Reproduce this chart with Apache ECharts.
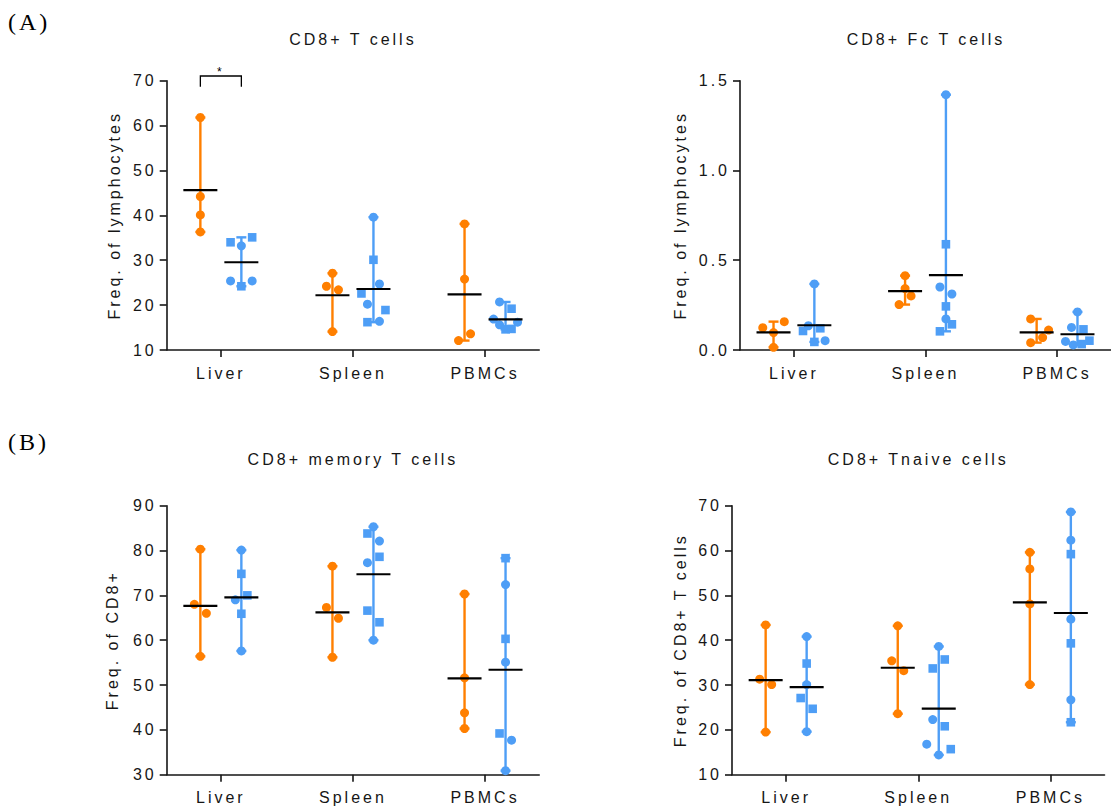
<!DOCTYPE html>
<html>
<head>
<meta charset="utf-8">
<script src="https://cdn.jsdelivr.net/npm/echarts@6/dist/echarts.min.js"></script>
<style>
  html, body { margin: 0; padding: 0; background: #ffffff; }
  #chart { width: 1111px; height: 811px; }
  /* Prism-style wide tracking on every label */
  #chart text { letter-spacing: 3px; }
</style>
</head>
<body>
<div id="chart"></div>
<script>
// ---- categories, titles, axes ----
const categories = ['Liver', 'Spleen', 'PBMCs'];
const panelTitles = ['CD8+ T cells', 'CD8+ Fc T cells', 'CD8+ memory T cells', 'CD8+ Tnaive cells'];
const panelLetters = ['(A)', '(B)'];
const yAxisNames = ['Freq. of lymphocytes', 'Freq. of lymphocytes', 'Freq. of CD8+', 'Freq. of CD8+ T cells'];
const yMin = [10, 0, 30, 10];
const yMax = [70, 1.5, 90, 70];
const yStep = [10, 0.5, 10, 10];
const yDecimals = [0, 1, 0, 0];

// ---- values per category (Liver, Spleen, PBMCs) ----
// CD8+ T cells
const tOrange      = [[61.8, 44.2, 40.1, 36.3], [27.1, 24.2, 23.4, 14.1], [38.1, 25.8, 13.6, 12.1]];
const tBlueCircle  = [[33.2, 25.4, 25.4], [39.6, 24.7, 20.2, 16.4], [20.7, 16.9, 16.2, 15.6]];
const tBlueSquare  = [[34.0, 35.1, 24.2], [30.1, 22.6, 18.9, 16.2], [19.2, 14.6, 14.7]];
// CD8+ Fc T cells
const fcOrange     = [[0.158, 0.124, 0.097, 0.015], [0.414, 0.342, 0.301, 0.253], [0.173, 0.111, 0.069, 0.041]];
const fcBlueCircle = [[0.368, 0.135, 0.052], [1.422, 0.351, 0.312, 0.173], [0.212, 0.126, 0.048, 0.028]];
const fcBlueSquare = [[0.106, 0.121, 0.045], [0.589, 0.243, 0.143, 0.104], [0.115, 0.033, 0.052]];
// CD8+ memory T cells
const memOrange     = [[80.3, 68.0, 66.0, 56.4], [76.5, 67.3, 64.9, 56.2], [70.3, 51.6, 43.8, 40.3]];
const memBlueCircle = [[80.1, 69.0, 57.6], [85.3, 82.1, 77.3, 60.0], [72.4, 55.1, 37.7, 30.9]];
const memBlueSquare = [[74.8, 70.0, 65.9], [83.8, 78.6, 66.6, 64.0], [78.3, 60.3, 39.2]];
// CD8+ Tnaive cells
const nvOrange     = [[43.4, 31.3, 30.1, 19.5], [43.2, 35.4, 33.2, 23.6], [59.6, 55.9, 48.1, 30.1]];
const nvBlueCircle = [[40.8, 30.1, 19.6], [38.6, 22.3, 16.8, 14.4], [68.6, 62.3, 44.7, 26.7]];
const nvBlueSquare = [[34.8, 27.1, 24.7], [35.7, 33.7, 20.8, 15.7], [59.2, 39.3, 21.7]];

// ---- scatter column slots (dot spreading within a group) ----
const tOrangeSlot   = [[0, 0, 0, 0], [0, -1, 1, 0], [0, 0, 1, -1]];
const tCircleSlot   = [[0, -1.8, 1.8], [0, 1, -1, 1], [-1, -2, 2, -1]];
const tSquareSlot   = [[-1.8, 1.8, 0], [0, -2, 2, -1], [1, 0, 1]];
const fcOrangeSlot  = [[1.8, -1.8, 0, 0], [0, 0, 1, -1], [-1, 2, 1, -1]];
const fcCircleSlot  = [[0, -1, 1.8], [0, -1, 1, 0], [0, -1, -2, -0.7]];
const fcSquareSlot  = [[-1.9, 1, 0], [0, 0, 1, -1], [1, 0.7, 2]];
const memOrangeSlot = [[0, -1, 1, 0], [0, -1, 1, 0], [0, 0, 0, 0]];
const memCircleSlot = [[0, -1, 0], [0, 1, -1, 0], [0, 0, 1, 0]];
const memSquareSlot = [[0, 1, 0], [-1, 1, -1, 1], [0, 0, -1]];
const nvOrangeSlot  = [[0, -1, 1, 0], [0, -1, 1, 0], [0, 0, 0, 0]];
const nvCircleSlot  = [[0, 0, 0], [0, -1, -2, 0], [0, 0, 0, 0]];
const nvSquareSlot  = [[0, -1, 1], [1, -1, 1, 2], [0, 0, 0]];

// significance marks: [panel, category index, label]
const sigMarks = [[0, 0, '*']];

// ---- panel assembly ----
const panels = [
  { orange: tOrange, circle: tBlueCircle, square: tBlueSquare, oSlot: tOrangeSlot, cSlot: tCircleSlot, sSlot: tSquareSlot },
  { orange: fcOrange, circle: fcBlueCircle, square: fcBlueSquare, oSlot: fcOrangeSlot, cSlot: fcCircleSlot, sSlot: fcSquareSlot },
  { orange: memOrange, circle: memBlueCircle, square: memBlueSquare, oSlot: memOrangeSlot, cSlot: memCircleSlot, sSlot: memSquareSlot },
  { orange: nvOrange, circle: nvBlueCircle, square: nvBlueSquare, oSlot: nvOrangeSlot, cSlot: nvCircleSlot, sSlot: nvSquareSlot }
];

const ORANGE = '#ff7f00';
const BLUE = '#4e9ef6';
const INK = '#161616';
const FONT = '"Liberation Sans", Arial, sans-serif';
const SERIF = '"Liberation Serif", "Times New Roman", serif';

const grids = [
  { left: 166.7, top: 80.7, width: 372.5, height: 269.3 },
  { left: 740, top: 80.7, width: 372, height: 269.3 },
  { left: 166.7, top: 505.7, width: 372.5, height: 269 },
  { left: 732, top: 505.7, width: 372.5, height: 269 }
];
const X_MIN = 0.59, X_MAX = 3.41;
const pxToX = (X_MAX - X_MIN) / 372.5;     // x units per pixel
const GROUP_SHIFT = 20.5 * pxToX;           // orange left / blue right of tick
const SLOT = 6 * pxToX;                     // jitter column width
const CAP = 5;                              // error-bar cap half width (px)
const MEAN_HALF = 17;                       // mean line half width (px)
const yNameGap = [44, 52, 46, 44];

const mean = a => a.reduce((s, v) => s + v, 0) / a.length;

function points(values, slots, side) {
  const out = [];
  values.forEach((arr, c) => {
    arr.forEach((v, i) => out.push([c + 1 + side * GROUP_SHIFT + slots[c][i] * SLOT, v]));
  });
  return out;
}

function rangeRender(color) {
  return function (params, api) {
    const x = api.value(0);
    const lo = api.coord([x, api.value(1)]);
    const hi = api.coord([x, api.value(2)]);
    const st = { stroke: color, lineWidth: 2.4 };
    return {
      type: 'group',
      children: [
        { type: 'line', shape: { x1: lo[0], y1: lo[1], x2: hi[0], y2: hi[1] }, style: st },
        { type: 'line', shape: { x1: hi[0] - CAP, y1: hi[1], x2: hi[0] + CAP, y2: hi[1] }, style: st },
        { type: 'line', shape: { x1: lo[0] - CAP, y1: lo[1], x2: lo[0] + CAP, y2: lo[1] }, style: st }
      ]
    };
  };
}

function meanRender(params, api) {
  const p = api.coord([api.value(0), api.value(1)]);
  return {
    type: 'line',
    shape: { x1: p[0] - MEAN_HALF, y1: p[1], x2: p[0] + MEAN_HALF, y2: p[1] },
    style: { stroke: '#000', lineWidth: 2.2 }
  };
}

const xAxes = [], yAxes = [], series = [], graphics = [];

panels.forEach((p, k) => {
  xAxes.push({
    gridIndex: k, type: 'value', min: X_MIN, max: X_MAX,
    axisLine: { show: true, onZero: false, lineStyle: { color: INK, width: 1.6 } },
    axisTick: { show: true, customValues: [1, 2, 3], length: 7, lineStyle: { color: INK, width: 1.6 } },
    axisLabel: {
      customValues: [1, 2, 3], margin: 15, fontSize: 16, color: INK, fontFamily: FONT,
      formatter: v => categories[Math.round(v) - 1]
    },
    splitLine: { show: false }
  });
  yAxes.push({
    gridIndex: k, type: 'value', min: yMin[k], max: yMax[k], interval: yStep[k],
    axisLine: { show: true, onZero: false, lineStyle: { color: INK, width: 1.6 } },
    axisTick: { show: true, length: 7, lineStyle: { color: INK, width: 1.6 } },
    axisLabel: { margin: 10, fontSize: 16, color: INK, fontFamily: FONT, formatter: v => v.toFixed(yDecimals[k]) },
    splitLine: { show: false },
    name: yAxisNames[k], nameLocation: 'middle', nameGap: yNameGap[k],
    nameTextStyle: { fontSize: 16, color: INK, fontFamily: FONT }
  });

  const allBlue = p.circle.map((c, i) => c.concat(p.square[i]));
  const rangeData = (groups, side) => groups.map((g, c) => [c + 1 + side * GROUP_SHIFT, Math.min(...g), Math.max(...g)]);
  const meanData = (groups, side) => groups.map((g, c) => [c + 1 + side * GROUP_SHIFT, mean(g)]);

  series.push(
    { type: 'custom', xAxisIndex: k, yAxisIndex: k, z: 2, renderItem: rangeRender(ORANGE), data: rangeData(p.orange, -1) },
    { type: 'custom', xAxisIndex: k, yAxisIndex: k, z: 2, renderItem: rangeRender(BLUE), data: rangeData(allBlue, 1) },
    { type: 'scatter', xAxisIndex: k, yAxisIndex: k, z: 3, symbol: 'circle', symbolSize: 9,
      itemStyle: { color: ORANGE, opacity: 1 }, data: points(p.orange, p.oSlot, -1) },
    { type: 'scatter', xAxisIndex: k, yAxisIndex: k, z: 3, symbol: 'circle', symbolSize: 9,
      itemStyle: { color: BLUE, opacity: 1 }, data: points(p.circle, p.cSlot, 1) },
    { type: 'scatter', xAxisIndex: k, yAxisIndex: k, z: 3, symbol: 'rect', symbolSize: 8.6,
      itemStyle: { color: BLUE, opacity: 1 }, data: points(p.square, p.sSlot, 1) },
    { type: 'custom', xAxisIndex: k, yAxisIndex: k, z: 4, renderItem: meanRender,
      data: meanData(p.orange, -1).concat(meanData(allBlue, 1)) }
  );

  const g = grids[k];
  graphics.push({
    type: 'text', x: g.left + g.width / 2, y: k < 2 ? 39 : 459,
    style: { text: panelTitles[k], textAlign: 'center', textVerticalAlign: 'middle', font: '16px ' + FONT, fill: INK }
  });
});

// significance brackets above compared groups
sigMarks.forEach(([k, c, label]) => {
  series.push({
    type: 'custom', xAxisIndex: k, yAxisIndex: k, z: 5, clip: false,
    data: [[c + 1, yMax[k]]],
    renderItem: function (params, api) {
      const l = api.coord([api.value(0) - GROUP_SHIFT, api.value(1)]);
      const r = api.coord([api.value(0) + GROUP_SHIFT, api.value(1)]);
      const top = l[1] - 4.7;
      return {
        type: 'group',
        children: [
          { type: 'polyline', shape: { points: [[l[0], l[1] + 6], [l[0], top], [r[0], top], [r[0], r[1] + 6]] },
            style: { stroke: '#000', lineWidth: 1.3, fill: null } },
          { type: 'text', x: (l[0] + r[0]) / 2, y: top - 4,
            style: { text: label, textAlign: 'center', textVerticalAlign: 'middle', font: '12px ' + FONT, fill: '#000' } }
        ]
      };
    }
  });
});

graphics.push(
  { type: 'text', x: 8, y: 22, style: { text: panelLetters[0], textVerticalAlign: 'middle', font: '24px ' + SERIF, fill: '#000' } },
  { type: 'text', x: 8, y: 442, style: { text: panelLetters[1], textVerticalAlign: 'middle', font: '24px ' + SERIF, fill: '#000' } }
);

const chart = echarts.init(document.getElementById('chart'), null, { renderer: 'svg' });
chart.setOption({
  backgroundColor: '#ffffff',
  animation: false,
  grid: grids,
  xAxis: xAxes,
  yAxis: yAxes,
  series: series,
  graphic: graphics
});
</script>
</body>
</html>
